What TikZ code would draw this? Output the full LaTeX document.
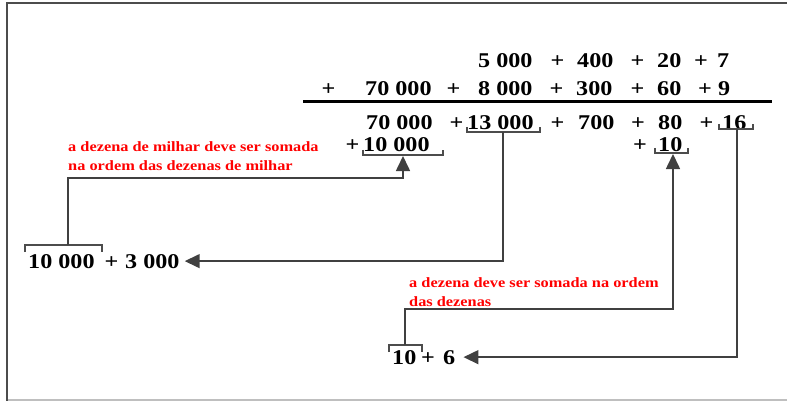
\documentclass[tikz,border=0pt]{standalone}
\usepackage{fontspec}
\setmainfont{Liberation Serif}
\newfontfamily\numfont[FakeStretch=1.15]{Liberation Serif}
\usetikzlibrary{arrows.meta}
\begin{document}
\begin{tikzpicture}[x=1pt,y=-1pt,
  num/.style={inner sep=0pt,anchor=base west,font=\numfont\bfseries\fontsize{21}{25}\selectfont},
  pl/.style={num,anchor=base},
  note/.style={inner sep=0pt,anchor=base west,text=red,font=\numfont\bfseries\fontsize{14.2}{17}\selectfont},
  con/.style={draw=black!75,line width=1.6pt},
  brk/.style={draw=black!70,line width=1.3pt},
  arr/.style={-{Triangle[length=15pt,width=14pt]}}]
\useasboundingbox (0,0) rectangle (787,401);
% frame
\draw[black!70,line width=2pt] (787,3) -- (7,3) -- (7,401);
\draw[black!25,line width=1.5pt] (8,400) -- (787,400);
% row 1
\node[num] (a1) at (478,68) {5 000};
\node[pl]  (p11) at (557.5,68) {+};
\node[num] (a2) at (577,68) {400};
\node[pl]  (p12) at (637.5,68) {+};
\node[num] (a3) at (657,68) {20};
\node[pl]  (p13) at (701,68) {+};
\node[num] (a4) at (717,68) {7};
% row 2
\node[pl]  (p20) at (328.5,96) {+};
\node[num] (b1) at (365,96) {70 000};
\node[pl]  (p21) at (453.5,96) {+};
\node[num] (b2) at (478,96) {8 000};
\node[pl]  (p22) at (556.5,96) {+};
\node[num] (b3) at (576,96) {300};
\node[pl]  (p23) at (637.5,96) {+};
\node[num] (b4) at (657,96) {60};
\node[pl]  (p24) at (705,96) {+};
\node[num] (b5) at (718,96) {9};
% rule
\draw[line width=3pt] (303,102) -- (772,102);
% row 3
\node[num] (c1) at (366,130) {70 000};
\node[pl]  (p31) at (456.5,130) {+};
\node[num] (c2) at (467,130) {13 000};
\node[pl]  (p32) at (557.5,130) {+};
\node[num] (c3) at (578,130) {700};
\node[pl]  (p33) at (638,130) {+};
\node[num] (c4) at (658,130) {80};
\node[pl]  (p34) at (706.5,130) {+};
\node[num] (c5) at (722,130) {16};
% row 4
\node[pl]  (p41) at (352.5,152) {+};
\node[num] (d1) at (363,152) {10 000};
\node[pl]  (p42) at (640,152) {+};
\node[num] (d2) at (658,152) {10};
% bottom left
\node[num] (e1) at (28,268) {10 000};
\node[pl]  (pe) at (111.5,268) {+};
\node[num] (e2) at (125,268) {3 000};
% bottom
\node[num] (f1) at (392,364) {10};
\node[pl]  (pf) at (428,364) {+};
\node[num] (f2) at (443,364) {6};
% notes
\node[note] (n1a) at (68,152) {a dezena de milhar deve ser somada};
\node[note] (n1b) at (68,170) {na ordem das dezenas de milhar};
\node[note] (n2a) at (409,287) {a dezena deve ser somada na ordem};
\node[note] (n2b) at (409,306) {das dezenas};
% brackets
\draw[brk] (467,127) -- (467,132) -- (540,132) -- (540,127);
\draw[brk] (363,150) -- (363,155) -- (443,155) -- (443,150);
\draw[brk] (655,148) -- (655,153) -- (688,153) -- (688,148);
\draw[brk] (719,124) -- (719,129) -- (753,129) -- (753,124);
\draw[brk] (25,252) -- (25,245) -- (102,245) -- (102,252);
\draw[brk] (389,352) -- (389,345) -- (422,345) -- (422,352);
% connector points
\coordinate (s13) at (503,132);
\coordinate (sBL) at (68,245);
\coordinate (kB) at (403,178);
\coordinate (tB) at (403,156);
\coordinate (sB10) at (405,345);
\coordinate (kC) at (673,309);
\coordinate (tC) at (673,154);
\coordinate (s16) at (737,129);
% connectors
\draw[con,arr] (s13) |- ([xshift=5pt]e2.east);
\draw[con,arr] (sBL) |- (kB) -- (tB);
\draw[con,arr] (sB10) |- (kC) -- (tC);
\draw[con,arr] (s16) |- ([xshift=8pt]f2.east);
\end{tikzpicture}
\end{document}
